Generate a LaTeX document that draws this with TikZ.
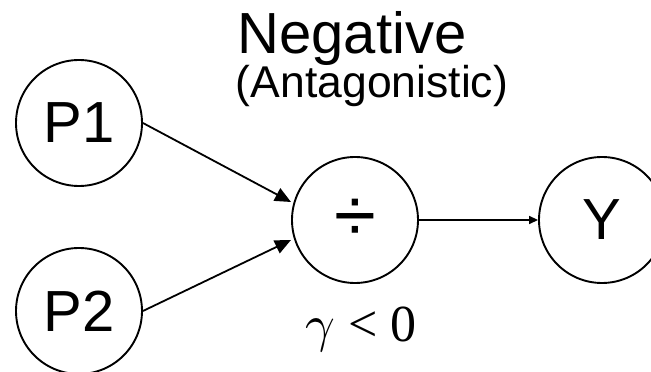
\documentclass[tikz,border=0pt]{standalone}
\usepackage{fontspec}
\usepackage{graphicx}
\setmainfont{Liberation Sans}
\newfontfamily\timesfont{Liberation Serif}
\usetikzlibrary{arrows.meta}
\begin{document}
\begin{tikzpicture}[x=1pt,y=1pt,
  circ/.style={circle,draw,line width=1.9pt,minimum size=126pt,inner sep=0pt,font=\fontsize{58}{60}\selectfont},
  bigarrow/.style={line width=1.8pt,-{Triangle[length=16pt,width=14pt]}},
  smallarrow/.style={line width=1.6pt,-{Triangle[length=9pt,width=8pt]}}]
\useasboundingbox (0,0) rectangle (651,372);
\node[circ] (P1) at (79,249) {P1};
\node[circ] (P2) at (79,61) {P2};
\node[circ,font=\fontsize{76}{78}\selectfont] (div) at (355,152) {÷};
\node[circ] (Y) at (602,152) {Y};
\coordinate (t1) at (291,170);
\coordinate (t2) at (291,132);
\draw[bigarrow] (P1.east) -- (t1);
\draw[bigarrow] (P2.east) -- (t2);
\draw[smallarrow] (div) -- (Y);
\node[anchor=base,inner sep=0pt,font=\fontsize{58}{60}\selectfont] (neg) at (352,318) {Negative};
\node[anchor=base,inner sep=0pt,font=\timesfont\fontsize{52}{54}\selectfont] (gam) at (361,30) {{\fontsize{10}{12}\selectfont\scalebox{5.2}{$\gamma$}} < 0};
\node[anchor=base,inner sep=0pt,font=\fontsize{44.5}{46}\selectfont] (ant) at (372,274) {(Antagonistic)};
\end{tikzpicture}
\end{document}
